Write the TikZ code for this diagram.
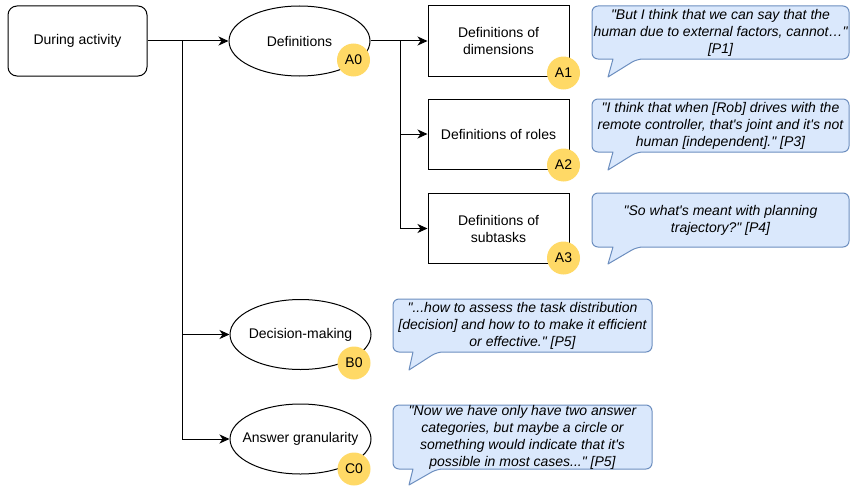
\documentclass[tikz,border=0pt]{standalone}
\usepackage{fontspec}
\setmainfont{Liberation Sans}[Ligatures=TeXOff]
\usetikzlibrary{shapes.geometric,arrows.meta}
\definecolor{bubfill}{HTML}{DAE8FC}
\definecolor{bubdraw}{HTML}{6C8EBF}
\definecolor{badgeyel}{HTML}{FFD966}
\begin{document}
\begin{tikzpicture}[x=1pt,y=-1pt,
  every node/.style={font=\fontsize{14}{17}\selectfont},
  rbox/.style={draw, line width=1pt, rounded corners=9pt, minimum width=139pt, minimum height=70pt, inner sep=0pt},
  sbox/.style={draw, line width=1pt, minimum width=141pt, minimum height=70pt, inner sep=0pt, align=center},
  ell/.style={draw, ellipse, line width=1pt, minimum width=141pt, minimum height=70pt, inner sep=0pt},
  badge/.style={circle, fill=badgeyel, minimum size=33pt, inner sep=0pt},
  bubble/.style={draw=bubdraw, fill=bubfill, line width=1pt, line join=round},
  qtext/.style={font=\fontsize{14}{17}\selectfont\itshape, align=center, inner sep=0pt},
  arr/.style={line width=1pt, -{Stealth[length=10pt,width=9pt,inset=3pt]}},
  ln/.style={line width=1pt}
]
\useasboundingbox (0,0) rectangle (850,487);

% main nodes
\node[rbox] (da) at (77.5,41) {During activity};
\node[ell, label={center:Definitions}] (def) at (299.5,41) {};
\node[ell, label={center:Decision-making}] (dm) at (300.5,334.5) {};
\node[ell, label={center:Answer granularity}] (ag) at (300.5,439) {};
\node[sbox] (d1) at (498.5,41) {Definitions of\\dimensions};
\node[sbox] (d2) at (498.5,134) {Definitions of roles};
\node[sbox] (d3) at (498.5,228.5) {Definitions of\\subtasks};

% badges
\node[badge] (a0) at (353.5,60) {A0};
\node[badge] (a1) at (563.5,73) {A1};
\node[badge] (a2) at (563.5,165) {A2};
\node[badge] (a3) at (563.5,258) {A3};
\node[badge] (b0) at (354,363) {B0};
\node[badge] (c0) at (354,469) {C0};

% connectors
\coordinate (j1) at (182,41);
\coordinate (j2) at (400,41);
\draw[arr] (da.east) -- (def.west);
\draw[arr] (j1) |- (dm.west);
\draw[arr] (j1) |- (ag.west);
\draw[arr] (def.east) -- (d1.west);
\draw[arr] (j2) |- (d2.west);
\draw[arr] (j2) |- (d3.west);

% callouts
\draw[bubble] (613,59) [rounded corners=6pt] -- (592,59) -- (592,6) -- (849,6) -- (849,59) -- (637,59) [sharp corners] -- (608,77) -- cycle;
\node[qtext] (q1) at (720.5,33) {"But I think that we can say that the\\human due to external factors, cannot…"\\{}[P1]};

\draw[bubble] (613,152) [rounded corners=6pt] -- (592,152) -- (592,99) -- (849,99) -- (849,152) -- (637,152) [sharp corners] -- (608,170) -- cycle;
\node[qtext] (q2) at (720.5,126) {"I think that when [Rob] drives with the\\remote controller, that's joint and it's not\\human [independent]." [P3]};

\draw[bubble] (613,247) [rounded corners=6pt] -- (592,247) -- (592,193) -- (849,193) -- (849,247) -- (637,247) [sharp corners] -- (608,264) -- cycle;
\node[qtext] (q3) at (720.5,220) {"So what's meant with planning\\trajectory?" [P4]};

\draw[bubble] (413,352) [rounded corners=6pt] -- (393,352) -- (393,299) -- (652,299) -- (652,352) -- (437,352) [sharp corners] -- (409,370) -- cycle;
\node[qtext] (q4) at (522.5,326) {"...how to assess the task distribution\\{}[decision] and how to to make it efficient\\or effective." [P5]};

\draw[bubble] (413,469) [rounded corners=6pt] -- (393,469) -- (393,405) -- (652,405) -- (652,469) -- (437,469) [sharp corners] -- (409,485) -- cycle;
\node[qtext] (q5) at (522.5,437.5) {"Now we have only have two answer\\categories, but maybe a circle or\\something would indicate that it's\\possible in most cases..." [P5]};
\end{tikzpicture}
\end{document}
